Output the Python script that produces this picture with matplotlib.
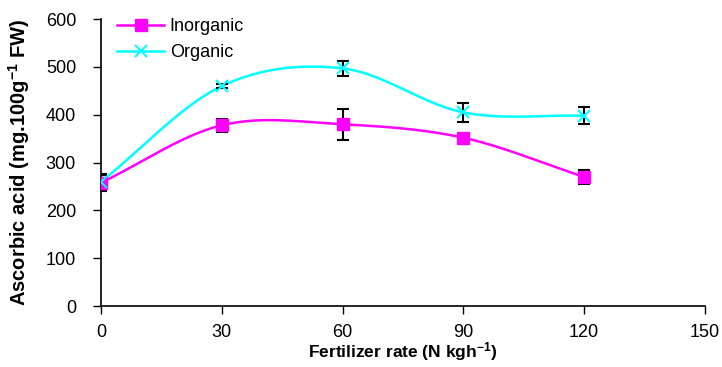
import matplotlib.pyplot as plt
import numpy as np

plt.rcParams['font.family'] = ['Liberation Sans', 'DejaVu Sans']
plt.rcParams['mathtext.default'] = 'regular'

rates = [0, 30, 60, 90, 120]
inorganic = [258, 378, 380, 352, 270]
inorganic_err = [18, 14, 32, 6, 15]
organic = [260, 460, 497, 405, 398]
organic_err = [14, 5, 15, 20, 18]


def smooth(x, y, n=40):
    """Catmull-Rom style smoothing similar to Excel smoothed lines."""
    x = np.asarray(x, float)
    y = np.asarray(y, float)
    px = np.concatenate([[2 * x[0] - x[1]], x, [2 * x[-1] - x[-2]]])
    py = np.concatenate([[2 * y[0] - y[1]], y, [2 * y[-1] - y[-2]]])
    xs, ys = [], []
    t = np.linspace(0, 1, n)
    for i in range(1, len(px) - 2):
        p0, p1, p2, p3 = px[i - 1], px[i], px[i + 1], px[i + 2]
        q0, q1, q2, q3 = py[i - 1], py[i], py[i + 1], py[i + 2]
        bx = [p1, p1 + (p2 - p0) / 6, p2 - (p3 - p1) / 6, p2]
        by = [q1, q1 + (q2 - q0) / 6, q2 - (q3 - q1) / 6, q2]
        b = [(1 - t) ** 3, 3 * (1 - t) ** 2 * t, 3 * (1 - t) * t ** 2, t ** 3]
        xs.append(sum(c * bb for c, bb in zip(bx, b)))
        ys.append(sum(c * bb for c, bb in zip(by, b)))
    return np.concatenate(xs), np.concatenate(ys)


fig = plt.figure(figsize=(7.22, 3.67), dpi=100)
ax = fig.add_axes([0.14, 0.166, 0.836, 0.782])

sx, sy = smooth(rates, inorganic)
ax.plot(sx, sy, color="#ff00ff", linewidth=1.8, zorder=2)
sx, sy = smooth(rates, organic)
ax.plot(sx, sy, color="#00ffff", linewidth=1.8, zorder=2)

ax.errorbar(rates, inorganic, yerr=inorganic_err, fmt="none", ecolor="black",
            capsize=4, elinewidth=1.5, capthick=1.5, zorder=3)
ax.errorbar(rates, organic, yerr=organic_err, fmt="none", ecolor="black",
            capsize=4, elinewidth=1.5, capthick=1.5, zorder=3)

ax.plot(rates, inorganic, "s", color="#ff00ff", markersize=9, zorder=4)
ax.plot(rates, organic, "x", color="#00ffff", markersize=9, markeredgewidth=1.5, zorder=4)

# legend handles
ax.plot([], [], "s-", color="#ff00ff", markersize=9, linewidth=1.8, label="Inorganic")
ax.plot([], [], "x-", color="#00ffff", markersize=9, markeredgewidth=1.5,
        linewidth=1.8, label="Organic")
ax.legend(loc="upper left", bbox_to_anchor=(0.0, 1.06), frameon=False, fontsize=13,
          handlelength=2.6, handletextpad=0.3, labelspacing=0.5)

ax.set_xlim(0, 150)
ax.set_ylim(0, 600)
ax.set_xticks([0, 30, 60, 90, 120, 150])
ax.set_yticks(range(0, 601, 100))
ax.tick_params(direction="out", labelsize=13, length=6, width=1, colors="black")
ax.tick_params(axis="x", pad=7)
ax.tick_params(axis="y", pad=12)
ax.spines["top"].set_visible(False)
ax.spines["right"].set_visible(False)
for s in ("left", "bottom"):
    ax.spines[s].set_linewidth(1.2)

ax.set_xlabel("Fertilizer rate (N kgh$^{-1}$)", fontsize=12.5, fontweight="bold", labelpad=-1)
ax.set_ylabel("Ascorbic acid (mg.100g$^{-1}$ FW)", fontsize=14.5, fontweight="bold", labelpad=10)

fig.savefig("out.png", dpi=100)
